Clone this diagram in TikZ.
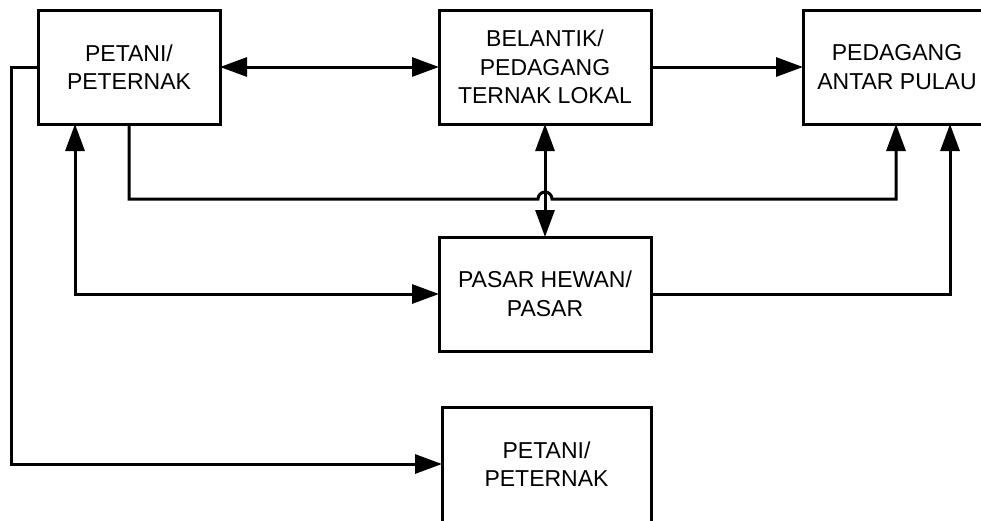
\documentclass[tikz,border=0pt]{standalone}
\usepackage{fontspec}
\setmainfont{Liberation Sans}
\usetikzlibrary{arrows.meta,calc}
\begin{document}
\begin{tikzpicture}[x=1pt,y=1pt,
  blk/.style={draw, line width=3pt, minimum height=114pt, inner sep=0pt, outer sep=0pt, align=center, font=\fontsize{23}{28.5}\selectfont},
  edge/.style={line width=3pt},
  conn/.style={line width=3pt},
  arr/.style={conn,-{Triangle[length=27pt,width=19pt]}},
  darr/.style={conn,{Triangle[length=27pt,width=19pt]}-{Triangle[length=27pt,width=19pt]}}]
\useasboundingbox (0,0) rectangle (981,-520);
\begin{scope}
\clip (0,0) rectangle (981,-520);
\node[blk, minimum width=182pt] (A) at (129,-67) {PETANI/\\PETERNAK};
\node[blk, minimum width=212pt] (B) at (545,-67) {BELANTIK/\\PEDAGANG\\TERNAK LOKAL};
\node[blk, draw=none, minimum width=188pt] (C) at (897,-67) {PEDAGANG\\ANTAR PULAU};
\draw[edge] ($(C.south east)+(30,0)$) -- (C.south west) -- (C.north west) -- ($(C.north east)+(30,0)$);
\node[blk, minimum width=212pt] (D) at (545,-294) {PASAR HEWAN/\\PASAR};
\node[blk, draw=none, minimum width=209pt] (E) at (546.5,-464) {PETANI/\\PETERNAK};
\draw[edge] ($(E.south west)+(0,-30)$) -- (E.north west) -- (E.north east) -- ($(E.south east)+(0,-30)$);
\end{scope}
% A <-> B
\draw[darr] (A.east) -- (B.west);
% B -> C
\draw[arr] (B.east) -- (C.west);
% B <-> D
\draw[darr] (B.south) -- (D.north);
% A -> C with hop over B-D line
\coordinate (h1) at (129,-199);
\coordinate (h2) at (538,-199);
\coordinate (h3) at (896,-199);
\draw[arr] (A.south) -- (h1) -- (h2) arc[start angle=180,end angle=0,radius=7] -- (h3) -- ([xshift=-1pt]C.south);
% A <-> D
\coordinate (a1) at (75,-294);
\draw[darr] ([xshift=-54pt]A.south) -- (a1) -- (D.west);
% D -> C
\coordinate (d1) at (950,-294);
\draw[arr] (D.east) -- (d1) -- ([xshift=53pt]C.south);
% A -> E
\coordinate (l1) at (11,-67);
\coordinate (l2) at (11,-464);
\draw[arr] (A.west) -- (l1) -- (l2) -- (E.west);
\end{tikzpicture}
\end{document}
